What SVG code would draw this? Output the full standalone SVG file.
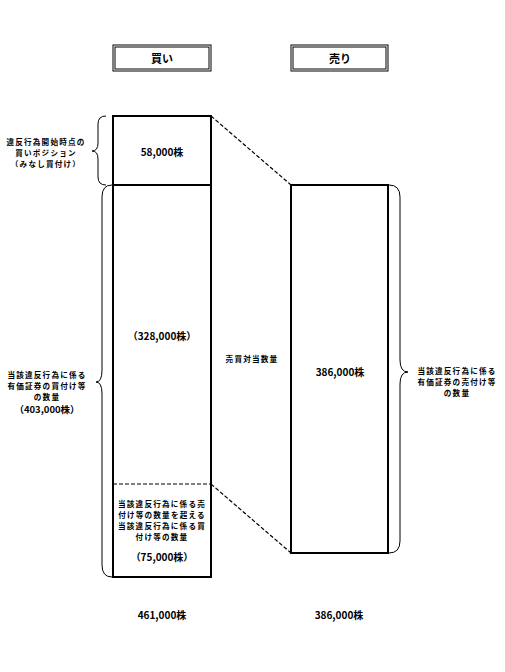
<svg xmlns="http://www.w3.org/2000/svg" width="505" height="672" viewBox="0 0 505 672">
<style>
text{font-family:"Noto Sans CJK JP","Noto Sans",sans-serif;font-weight:bold;fill:#000;text-anchor:middle;dominant-baseline:central}
.s{font-size:7.6px;letter-spacing:1.2px}
.m{font-size:10px}
.h{font-size:11px}
.box{fill:#fff;stroke:#000;stroke-width:2}
.hb{fill:none;stroke:#000;stroke-width:1}
.dash{fill:none;stroke:#000;stroke-width:1.2;stroke-dasharray:4 2}
.brace{fill:none;stroke:#000;stroke-width:1}
</style>
<rect width="505" height="672" fill="#fff"/>
<g id="header-buy">
<rect class="hb" x="113" y="45" width="98" height="26"/>
<rect class="hb" x="115" y="47" width="94" height="22" stroke-width="1.5"/>
<text class="h" x="162" y="58">買い</text>
</g>
<g id="header-sell">
<rect class="hb" x="291" y="45" width="97" height="26"/>
<rect class="hb" x="293" y="47" width="93" height="22" stroke-width="1.5"/>
<text class="h" x="340" y="58">売り</text>
</g>
<g id="buy-column">
<rect class="box" x="113" y="116" width="98" height="461"/>
<line x1="113" y1="185" x2="211" y2="185" stroke="#000" stroke-width="2"/>
<line class="dash" x1="113" y1="484" x2="211" y2="484" stroke-width="1"/>
<text class="m" x="162" y="151">58,000株</text>
<text class="m" x="162" y="335">（328,000株）</text>
<text class="s" x="162" y="503">当該違反行為に係る売</text>
<text class="s" x="162" y="514">付け等の数量を超える</text>
<text class="s" x="162" y="525">当該違反行為に係る買</text>
<text class="s" x="162" y="536">付け等の数量</text>
<text class="m" x="162" y="556">（75,000株）</text>
</g>
<g id="sell-column">
<rect class="box" x="291" y="185" width="97" height="368"/>
<text class="m" x="340" y="371">386,000株</text>
</g>
<g id="connectors">
<line class="dash" x1="211" y1="116" x2="291" y2="185"/>
<line class="dash" x1="211" y1="484" x2="291" y2="553"/>
<path class="brace" d="M106 116 Q98 116 98 124 L98 143 Q98 151 92 151 Q98 151 98 159 L98 177 Q98 185 106 185"/>
<path class="brace" d="M112 185 Q102 185 102 197 L102 370 Q102 382 96 382 Q102 382 102 394 L102 565 Q102 577 112 577"/>
<path class="brace" d="M389 185 Q400 185 400 197 L400 360 Q400 372 408 372 Q400 372 400 384 L400 541 Q400 553 389 553"/>
</g>
<g id="label-initial">
<text class="s" x="46" y="141">違反行為開始時点の</text>
<text class="s" x="46" y="152">買いポジション</text>
<text class="s" x="46" y="163">（みなし買付け）</text>
</g>
<g id="label-buy-total">
<text class="s" x="47" y="374.5">当該違反行為に係る</text>
<text class="s" x="47" y="385.5">有価証券の買付け等</text>
<text class="s" x="47" y="396.5">の数量</text>
<text class="m" x="47" y="409" style="font-size:9.5px">（403,000株）</text>
</g>
<g id="label-matched">
<text class="s" x="252" y="358">売買対当数量</text>
</g>
<g id="label-sell-total">
<text class="s" x="457" y="370">当該違反行為に係る</text>
<text class="s" x="457" y="381">有価証券の売付け等</text>
<text class="s" x="457" y="392">の数量</text>
</g>
<g id="totals">
<text class="m" x="162" y="614">461,000株</text>
<text class="m" x="339" y="614">386,000株</text>
</g>
</svg>
